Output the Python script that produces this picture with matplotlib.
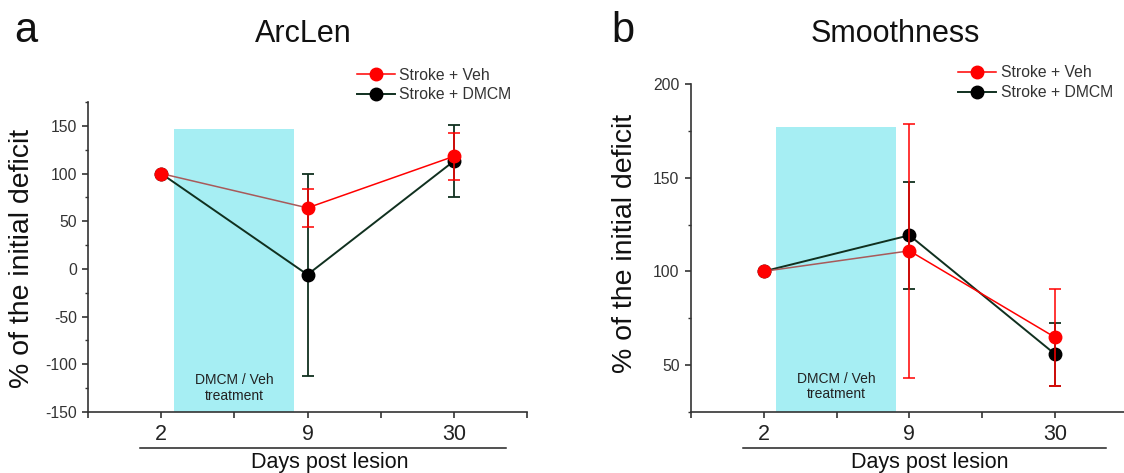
import matplotlib.pyplot as plt
from matplotlib.ticker import MultipleLocator, FixedLocator

plt.rcParams['font.family'] = ['Liberation Sans', 'DejaVu Sans']
plt.rcParams['axes.unicode_minus'] = False

# Daten
dias = ['2', '9', '30']
pos = [1, 3, 5]
legendas = ['Stroke + Veh', 'Stroke + DMCM']

arc_veh = [100, 64, 118]
arc_veh_err = [0, 20, 25]
arc_dmcm = [100, -6, 113]
arc_dmcm_err = [0, 106, 38]

smo_veh = [100, 111, 64.7]
smo_veh_err = [0, 68, 26]
smo_dmcm = [100, 119.3, 55.7]
smo_dmcm_err = [0, 28.6, 16.7]

W, H = 1124, 473
VERMELHO = '#ff0000'
CASTANHO = '#a85a5a'
ESCURO = '#10301f'
CINZA = '#333333'
CIANO = '#a6eef3'


def fx(x):
    return x / W


def fy(y):
    return 1 - y / H


fig = plt.figure(figsize=(W / 100, H / 100), dpi=100)

paineis = [
    dict(rect=[fx(88), fy(412), (527 - 88) / W, (412 - 102) / H],
         ylim=(-150, 175), minor=25, sombra=147,
         veh=arc_veh, veh_err=arc_veh_err, dmcm=arc_dmcm, dmcm_err=arc_dmcm_err,
         titulo='ArcLen', tx=303, letra='a', lx=14, ylx=22, yly=258,
         leg=(0.613, 1.055), sub=(140, 506), dx=330, ticks=[-150, -100, -50, 0, 50, 100, 150]),
    dict(rect=[fx(690.7), fy(411.7), 437.4 / W, (411.7 - 84.3) / H],
         ylim=(25, 200), minor=25, sombra=177,
         veh=smo_veh, veh_err=smo_veh_err, dmcm=smo_dmcm, dmcm_err=smo_dmcm_err,
         titulo='Smoothness', tx=895, letra='b', lx=611, ylx=625, yly=243,
         leg=(0.612, 1.005), sub=(742.7, 1106), dx=930, ticks=[50, 100, 150, 200]),
]

for p in paineis:
    ax = fig.add_axes(p['rect'])
    ax.set_xlim(0, 6)
    ax.set_ylim(*p['ylim'])

    # periodo de tratamento
    ax.fill_between([1.17, 2.81], p['ylim'][0], p['sombra'], color=CIANO, lw=0, zorder=0)
    ax.text(2.0, 0.077, 'DMCM / Veh\ntreatment', transform=ax.get_xaxis_transform(),
            ha='center', va='center', fontsize=10, color='#222222', linespacing=1.15)

    # DMCM
    ax.errorbar(pos, p['dmcm'], yerr=p['dmcm_err'], fmt='none', ecolor=ESCURO,
                elinewidth=1.3, capsize=4, capthick=1.3, zorder=2)
    ax.plot(pos, p['dmcm'], color=ESCURO, lw=1.4, marker='o', ms=9,
            mfc='black', mec='black', zorder=3)

    # Veh
    ax.errorbar(pos, p['veh'], yerr=p['veh_err'], fmt='none', ecolor=VERMELHO,
                elinewidth=1.1, capsize=4, capthick=1.1, zorder=4)
    ax.plot(pos[:2], p['veh'][:2], color=CASTANHO, lw=1.1, zorder=4)
    ax.plot(pos[1:], p['veh'][1:], color=VERMELHO, lw=1.1, zorder=4)
    ax.plot(pos, p['veh'], ls='none', marker='o', ms=9, mfc=VERMELHO, mec=VERMELHO, zorder=5)

    # legenda
    h1, = ax.plot([], [], color=VERMELHO, lw=1.1, marker='o', ms=9, mfc=VERMELHO, mec=VERMELHO)
    h2, = ax.plot([], [], color=ESCURO, lw=1.4, marker='o', ms=9, mfc='black', mec='black')
    ax.legend([h1, h2], legendas, loc='center left', bbox_to_anchor=p['leg'], frameon=False,
              fontsize=11.3, handlelength=2.4, handletextpad=0.3, labelspacing=0.3,
              borderpad=0, borderaxespad=0, labelcolor=CINZA)

    # eixos
    for s in ['top', 'right']:
        ax.spines[s].set_visible(False)
    for s in ['left', 'bottom']:
        ax.spines[s].set_color(CINZA)
        ax.spines[s].set_linewidth(1.2)
    ax.xaxis.set_major_locator(FixedLocator([0, 1, 2, 3, 4, 5, 6]))
    ax.set_xticklabels(['', dias[0], '', dias[1], '', dias[2], ''])
    ax.yaxis.set_major_locator(FixedLocator(p['ticks']))
    ax.yaxis.set_minor_locator(MultipleLocator(p['minor']))
    ax.tick_params(axis='x', direction='out', length=4.5, width=1.2, color=CINZA,
                   labelsize=15.5, pad=4, labelcolor='#222222')
    ax.tick_params(axis='y', which='major', direction='out', length=4, width=1.2, color=CINZA,
                   labelsize=11.3, pad=4, labelcolor=CINZA)
    ax.tick_params(axis='y', which='minor', direction='out', length=2.5, width=1, color=CINZA)

    # textos da figura
    fig.text(fx(p['tx']), fy(41.5), p['titulo'], ha='center', va='baseline', fontsize=22,
             color='#111111')
    fig.text(fx(p['lx']), fy(41.5), p['letra'], ha='left', va='baseline', fontsize=30,
             color='#111111')
    fig.text(fx(p['ylx']), fy(p['yly']), '% of the initial deficit', rotation=90,
             ha='center', va='center', fontsize=20.5, color='#111111')
    fig.add_artist(plt.Line2D([fx(p['sub'][0]), fx(p['sub'][1])], [fy(447.7), fy(447.7)],
                              color='#222222', lw=1.1))
    fig.text(fx(p['dx']), fy(468), 'Days post lesion', ha='center', va='baseline',
             fontsize=15.5, color='#111111')

fig.savefig('out.png', dpi=100)
